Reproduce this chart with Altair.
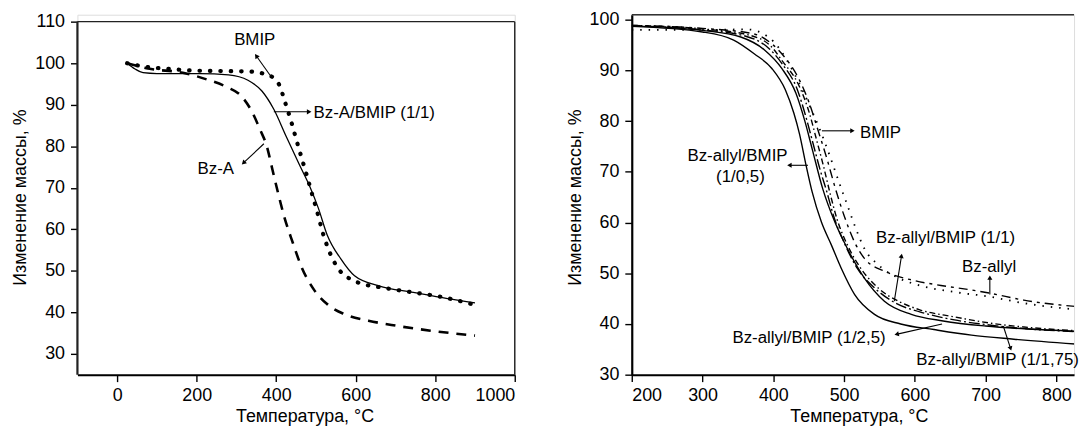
import altair as alt
import pandas as pd

FONT = "Liberation Sans, Arial, sans-serif"
TICK_FS = 18
TITLE_FS = 18
ANN_FS = 17

# ---------------- left panel data (temperature, mass %) ----------------
L_T_MIX = [25, 45, 65, 100, 150, 208, 280, 329, 364, 394, 424, 459, 485, 506, 528, 563, 597, 658, 745, 831, 900]
L_M_MIX = [100, 98.6, 97.7, 97.5, 97.5, 97.5, 97.2, 95.9, 93.3, 88.9, 82.6, 75.4, 70.2, 65.1, 58.7, 52.8, 48.8, 46.4, 44.8, 43.3, 42.3]

L_T_BMIP = [25, 60, 120, 200, 265, 330, 381, 407, 422, 437, 450, 463, 476, 489, 502, 519, 537, 558, 589, 615, 658, 745, 822, 900]
L_M_BMIP = [100, 99.3, 98.7, 98.2, 98.1, 98.0, 97.1, 94.9, 90.7, 86.2, 81.8, 77.5, 73.3, 68.9, 64.6, 58.6, 53.9, 50.3, 47.9, 46.9, 46.1, 44.8, 43.6, 41.8]

L_T_BZA = [25, 78, 165, 225, 277, 312, 338, 359, 377, 390, 403, 420, 442, 463, 494, 528, 571, 632, 701, 788, 900]
L_M_BZA = [100, 98.7, 97.7, 96.1, 94.2, 92.1, 88.5, 84.1, 79.8, 74.6, 69.4, 63.1, 56.7, 51.1, 45.6, 42.0, 39.6, 38.0, 36.8, 35.6, 34.4]

L_LABELS = ["BMIP", "Bz-A"]
L_LABEL_T = [346, 248]
L_LABEL_M = [105.5, 74.4]
L_LABEL2 = ["Bz-A/BMIP (1/1)"]
L_LABEL2_T = [494]
L_LABEL2_M = [88.0]

# arrows: tail (T, M) -> head (T, M), head angle (deg)
L_ARR_T1 = [386, 394, 369]
L_ARR_M1 = [96.9, 88.3, 80.6]
L_ARR_T2 = [351, 481, 319]
L_ARR_M2 = [101.6, 88.3, 76.1]
L_ARR_ANG = [325, 90, 226]

# frame of left panel
L_FR_T1 = [-100, -100, 1000]
L_FR_M1 = [25, 110, 25]
L_FR_T2 = [-100, 1000, 1000]
L_FR_M2 = [110, 110, 110]
L_FR_W = [2.2, 1.4, 1.4]

# ---------------- right panel data ----------------
R_T_05 = [200, 300, 344, 373, 398, 417, 429, 437, 446, 455, 468, 482, 496, 515, 543, 580, 627, 680, 740, 840]
R_M_05 = [98.7, 97.6, 96.0, 93.3, 90.4, 86.2, 81.6, 77.5, 71.5, 66.0, 60.1, 55.6, 51.0, 45.8, 41.9, 40.0, 38.9, 37.8, 37.0, 35.9]

R_T_25 = [200, 300, 354, 388, 412, 432, 444, 455, 470, 487, 505, 529, 557, 595, 640, 700, 760, 840]
R_M_25 = [98.8, 97.9, 96.6, 94.0, 90.4, 85.5, 80.3, 74.5, 66.6, 60.1, 54.8, 49.0, 44.5, 41.9, 40.6, 39.6, 39.0, 38.5]

R_T_175 = [200, 300, 360, 395, 412, 434, 446, 456, 466, 476, 485, 500, 519, 544, 573, 607, 656, 705, 754, 840]
R_M_175 = [98.8, 98.0, 96.8, 94.2, 91.4, 86.2, 80.9, 75.7, 70.5, 65.9, 61.4, 56.1, 50.9, 47.0, 44.1, 42.4, 40.8, 39.8, 39.1, 38.4]

R_T_11 = [200, 300, 365, 398, 412, 437, 451, 461, 471, 480, 490, 505, 524, 549, 578, 607, 656, 705, 754, 840]
R_M_11 = [98.9, 98.2, 97.0, 94.6, 92.0, 86.8, 81.6, 76.4, 71.1, 65.9, 60.7, 55.5, 50.9, 47.0, 44.4, 42.8, 41.4, 40.2, 39.4, 38.6]

R_T_BZ = [200, 300, 370, 400, 412, 437, 451, 463, 476, 488, 500, 515, 529, 559, 598, 637, 680, 705, 754, 840]
R_M_BZ = [98.9, 98.3, 97.3, 95.0, 93.3, 88.1, 83.5, 78.3, 72.5, 66.6, 61.4, 56.1, 52.9, 50.3, 48.6, 47.6, 46.7, 46.1, 44.7, 43.3]

R_T_BMIP = [200, 300, 363, 393, 407, 427, 441, 456, 466, 480, 493, 505, 517, 529, 549, 578, 607, 656, 705, 754, 840]
R_M_BMIP = [98.0, 98.0, 98.1, 96.6, 94.6, 90.1, 86.2, 81.6, 78.3, 73.1, 67.9, 63.3, 58.7, 54.8, 51.6, 49.0, 47.6, 46.3, 45.4, 44.1, 42.7]

R_LABELS = ["BMIP", "Bz-allyl/BMIP", "(1/0,5)", "Bz-allyl/BMIP (1/1)", "Bz-allyl",
            "Bz-allyl/BMIP (1/2,5)", "Bz-allyl/BMIP (1/1,75)"]
R_LABEL_T = [551.5, 349.4, 353.6, 643.4, 705, 450.5, 717]
R_LABEL_M = [77.7, 73.2, 68.9, 57.0, 51.3, 37.2, 32.9]

R_ARR_T1 = [468.7, 449, 571, 706, 638.5, 725]
R_ARR_M1 = [78.1, 71.3, 44.5, 45.8, 40.0, 39.6]
R_ARR_T2 = [510.8, 423.8, 581, 706, 575.3, 735]
R_ARR_M2 = [78.1, 71.3, 53.3, 49.0, 38.0, 35.3]
R_ARR_ANG = [90, 270, 9, 0, 257, 162]

R_X_MAX = 825
R_FR_T1 = [200]
R_FR_T2 = [R_X_MAX]
R_FR_M = [101]


def panel(xdom, ydom, xticks, yticks, xaxis_domain, yaxis_domain):
    xs = alt.Scale(domain=xdom, nice=False, zero=False)
    ys = alt.Scale(domain=ydom, nice=False, zero=False)
    xa = alt.Axis(values=xticks, format="d", title="Температура, °C", grid=False,
                  domain=xaxis_domain, domainWidth=2, domainColor="black",
                  tickSize=7, tickWidth=1.4, tickColor="black",
                  labelFont=FONT, labelFontSize=TICK_FS, labelColor="black", labelPadding=5,
                  titleFont=FONT, titleFontSize=TITLE_FS, titleFontWeight="normal", titleColor="black",
                  titleX=229, titleY=42, titleBaseline="middle")
    ya = alt.Axis(values=yticks, format="d", title="Изменение массы, %", grid=False,
                  domain=yaxis_domain, domainWidth=2.2, domainColor="black",
                  tickSize=7, tickWidth=1.4, tickColor="black",
                  labelFont=FONT, labelFontSize=TICK_FS, labelColor="black", labelPadding=6,
                  titleFont=FONT, titleFontSize=TITLE_FS, titleFontWeight="normal", titleColor="black",
                  titleX=-57, titleY=184, titleBaseline="middle", titleAngle=270)

    def enc(df, tx="T", my="M"):
        return dict(x=alt.X(f"{tx}:Q", scale=xs, axis=xa), y=alt.Y(f"{my}:Q", scale=ys, axis=ya))

    return enc


def line(enc, T, M, dash, width, cap="butt"):
    df = pd.DataFrame({"T": T, "M": M})
    kw = dict(color="black", strokeWidth=width, strokeCap=cap, clip=True, interpolate="monotone")
    if dash:
        kw["strokeDash"] = dash
    return alt.Chart(df).mark_line(**kw).encode(**enc(df))


encL = panel([-100, 1000], [25, 111.67], [0, 200, 400, 600, 800, 1000],
             [30, 40, 50, 60, 70, 80, 90, 100, 110], True, False)

layers_left = [
    line(encL, L_T_MIX, L_M_MIX, None, 1.3),
    line(encL, L_T_BMIP, L_M_BMIP, [0.5, 10], 4.2, "round"),
    line(encL, L_T_BZA, L_M_BZA, [10, 8], 2.6),
]

fr = pd.DataFrame({"T": L_FR_T1, "M": L_FR_M1, "T2": L_FR_T2, "M2": L_FR_M2, "w": L_FR_W})
layers_left.append(alt.Chart(fr).mark_rule(color="#222").encode(
    **encL(fr), x2="T2:Q", y2="M2:Q", strokeWidth=alt.StrokeWidth("w:Q", scale=None)))

ar = pd.DataFrame({"T": L_ARR_T1, "M": L_ARR_M1, "T2": L_ARR_T2, "M2": L_ARR_M2, "a": L_ARR_ANG})
layers_left.append(alt.Chart(ar).mark_rule(color="black", strokeWidth=1.1).encode(
    **encL(ar), x2="T2:Q", y2="M2:Q"))
layers_left.append(alt.Chart(ar).mark_point(shape="triangle", filled=True, color="black", size=28, opacity=1).encode(
    **encL(ar, "T2", "M2"), angle=alt.Angle("a:Q", scale=None)))

lb = pd.DataFrame({"T": L_LABEL_T, "M": L_LABEL_M, "t": L_LABELS})
layers_left.append(alt.Chart(lb).mark_text(font=FONT, fontSize=ANN_FS, color="black", align="center", baseline="middle").encode(
    **encL(lb), text="t:N"))
lb2 = pd.DataFrame({"T": L_LABEL2_T, "M": L_LABEL2_M, "t": L_LABEL2})
layers_left.append(alt.Chart(lb2).mark_text(font=FONT, fontSize=ANN_FS, color="black", align="left", baseline="middle").encode(
    **encL(lb2), text="t:N"))

left = alt.layer(*layers_left).properties(width=441, height=363)

encR = panel([200, R_X_MAX], [30, 101], [200, 300, 400, 500, 600, 700, 800],
             [30, 40, 50, 60, 70, 80, 90, 100], True, True)

layers_right = [
    line(encR, R_T_05, R_M_05, None, 1.4),
    line(encR, R_T_25, R_M_25, None, 1.4),
    line(encR, R_T_175, R_M_175, [11, 3, 2, 3], 1.4),
    line(encR, R_T_11, R_M_11, [6, 3, 1.5, 3], 1.4),
    line(encR, R_T_BZ, R_M_BZ, [9, 5, 3, 5], 1.4),
    line(encR, R_T_BMIP, R_M_BMIP, [1.5, 7], 1.8),
]

frR = pd.DataFrame({"T": R_FR_T1, "T2": R_FR_T2, "M": R_FR_M})
layers_right.append(alt.Chart(frR).mark_rule(color="#333", strokeWidth=1.6).encode(
    **encR(frR), x2="T2:Q"))

arR = pd.DataFrame({"T": R_ARR_T1, "M": R_ARR_M1, "T2": R_ARR_T2, "M2": R_ARR_M2, "a": R_ARR_ANG})
layers_right.append(alt.Chart(arR).mark_rule(color="black", strokeWidth=1.1).encode(
    **encR(arR), x2="T2:Q", y2="M2:Q"))
layers_right.append(alt.Chart(arR).mark_point(shape="triangle", filled=True, color="black", size=26, opacity=1).encode(
    **encR(arR, "T2", "M2"), angle=alt.Angle("a:Q", scale=None)))

lbR = pd.DataFrame({"T": R_LABEL_T, "M": R_LABEL_M, "t": R_LABELS})
layers_right.append(alt.Chart(lbR).mark_text(font=FONT, fontSize=ANN_FS, color="black", align="center", baseline="middle").encode(
    **encR(lbR), text="t:N"))

right = alt.layer(*layers_right).properties(width=446, height=363)

chart = alt.hconcat(left, right, spacing=118, bounds="flush").properties(
    padding={"left": 3, "top": 0, "right": 0, "bottom": 0}
).configure_view(stroke=None).configure(background="white")

chart.save("out.html", embed_options={"renderer": "svg", "actions": False})
